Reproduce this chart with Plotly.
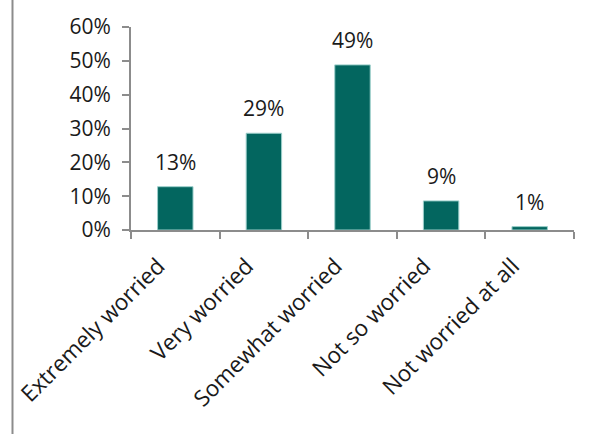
import plotly.graph_objects as go

categories = ["Extremely worried", "Very worried", "Somewhat worried", "Not so worried", "Not worried at all"]
values = [0.128, 0.286, 0.488, 0.086, 0.010]
y_ticks = [0, 0.1, 0.2, 0.3, 0.4, 0.5, 0.6]
y_tick_labels = ["0%", "10%", "20%", "30%", "40%", "50%", "60%"]

FONT = "Open Sans"
AXIS_COLOR = "#8c8c8c"
BAR_COLOR = "#03665f"
TEXT_COLOR = "#1a1a1a"
FS = 21

fig = go.Figure()
fig.add_trace(go.Bar(
    x=categories, y=values,
    marker=dict(color=BAR_COLOR, line=dict(color="#9ccfcb", width=1)),
    width=0.4,
    hoverinfo="skip",
))

for c, v in zip(categories, values):
    fig.add_annotation(
        x=c, y=v, text=f"{round(v*100):d}%", showarrow=False,
        yanchor="bottom", yshift=9,
        font=dict(family=FONT, size=FS, color=TEXT_COLOR),
    )

# left border line of the slide
fig.add_shape(type="line", xref="paper", yref="paper",
              x0=-0.2675, x1=-0.2675, y0=-2.0, y1=2.0,
              line=dict(color=AXIS_COLOR, width=2))

fig.update_layout(
    width=593, height=434,
    margin=dict(l=131, r=19, t=24, b=204),
    paper_bgcolor="white", plot_bgcolor="white",
    showlegend=False,
    font=dict(family=FONT, size=FS, color=TEXT_COLOR),
)
fig.update_xaxes(
    showline=True, linecolor=AXIS_COLOR, linewidth=2,
    ticks="outside", ticklen=7, tickcolor=AXIS_COLOR, tickwidth=2,
    tickson="boundaries", tickangle=-45, showgrid=False,
    ticklabelstandoff=12, ticklabelshift=-17,
    tickfont=dict(family=FONT, size=22.5, color=TEXT_COLOR),
)
fig.update_yaxes(
    range=[0, 0.6], tickvals=y_ticks, ticktext=y_tick_labels,
    showline=True, linecolor=AXIS_COLOR, linewidth=2,
    ticks="outside", ticklen=7, tickcolor=AXIS_COLOR, tickwidth=2,
    showgrid=False, zeroline=False, ticklabelstandoff=7,
    tickfont=dict(family=FONT, size=FS, color=TEXT_COLOR),
)

fig.write_html("out.html")
